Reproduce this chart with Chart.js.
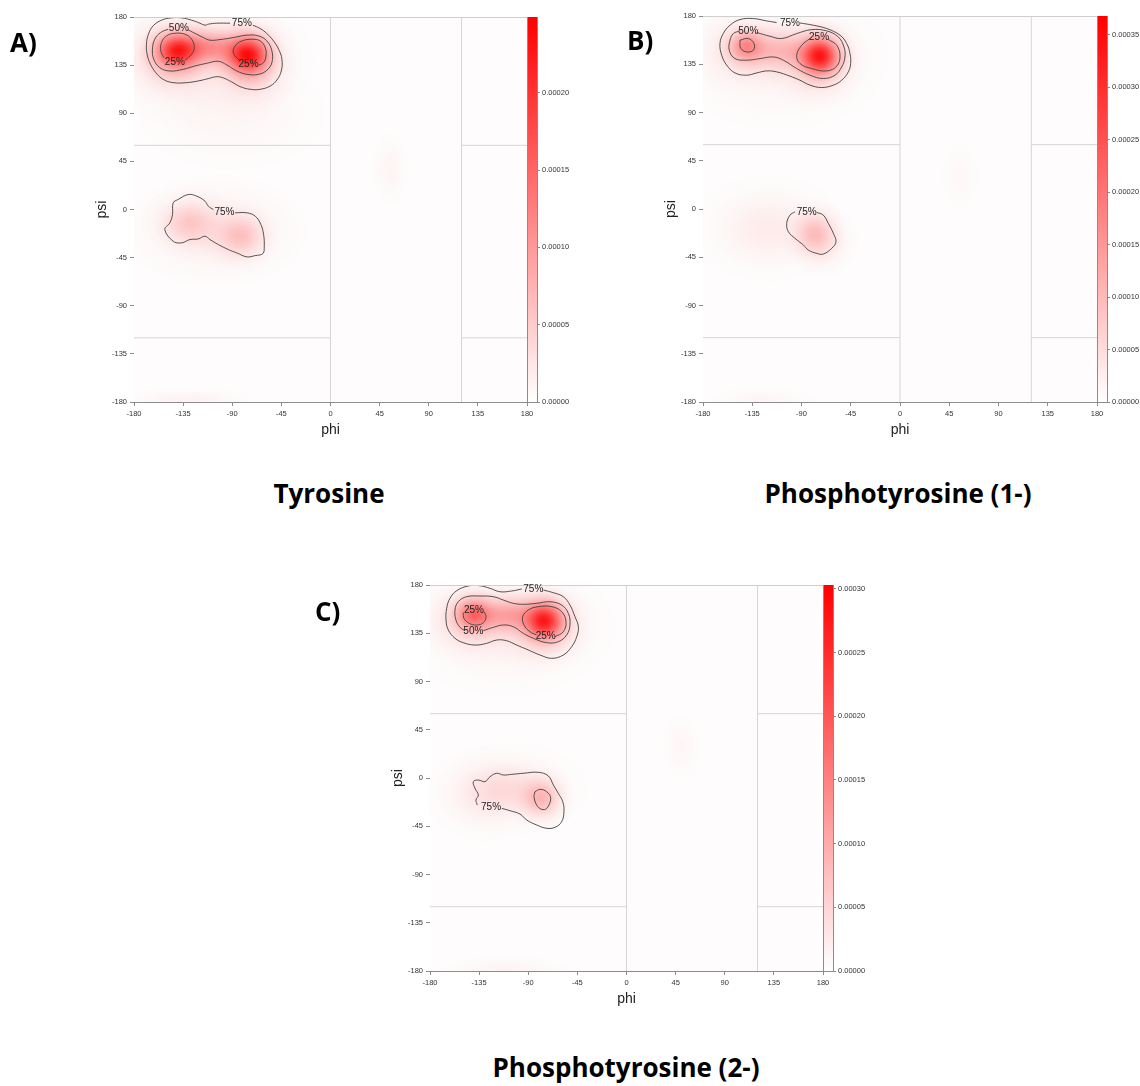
<!DOCTYPE html>
<html>
<head>
<meta charset="utf-8">
<script src="https://cdn.jsdelivr.net/npm/chart.js@4.4.1/dist/chart.umd.min.js"></script>
<style>
  html, body { margin: 0; padding: 0; background: #fff; width: 1140px; height: 1086px; overflow: hidden; }
  canvas { position: absolute; }
  .tag, .name {
    position: absolute; font-family: "Open Sans", sans-serif; font-weight: 700;
    font-size: 26px; line-height: 26px; color: #000; white-space: nowrap;
  }
  .name { transform: translateX(-50%); }
</style>
</head>
<body>
<canvas id="tyr" width="600" height="450" style="left:0;top:0"></canvas>
<canvas id="ptyr1" width="540" height="450" style="left:600px;top:0"></canvas>
<canvas id="ptyr2" width="600" height="450" style="left:300px;top:560px"></canvas>

<div class="tag" style="left:10px;top:29px">A)</div>
<div class="tag" style="left:627px;top:27px">B)</div>
<div class="tag" style="left:315px;top:598px">C)</div>
<div class="name" style="left:329px;top:480px">Tyrosine</div>
<div class="name" style="left:898px;top:480px">Phosphotyrosine (1-)</div>
<div class="name" style="left:626px;top:1054px">Phosphotyrosine (2-)</div>

<script>
// axis ticks (degrees)
const phiTicks = [-180, -135, -90, -45, 0, 45, 90, 135, 180];
const psiTicks = [-180, -135, -90, -45, 0, 45, 90, 135, 180];

// region boundaries [phi, psi]
const regionLines = [
  [[-180, 60], [0, 60]],
  [[120, 60], [180, 60]],
  [[-180, -120], [0, -120]],
  [[120, -120], [180, -120]],
  [[0, -180], [0, 180]],
  [[120, -180], [120, 180]]
];

// density peaks: [phi, psi, sd phi, sd psi, density]
const tyrBlobs = [
  [-140, 149, 12, 10, 0.00015],
  [-76, 145, 12, 11, 0.00017],
  [-110, 152, 16, 10, 0.00008],
  [-145, 143, 18, 16, 0.00006],
  [-72, 138, 16, 17, 0.00006],
  [-115, 140, 38, 25, 0.00002],
  [-130, -12, 15, 12, 0.00004],
  [-82, -25, 13, 12, 0.000045],
  [-105, -20, 32, 20, 0.00002],
  [55, 38, 7, 14, 0.000008],
  [-130, -178, 25, 5, 0.00001],
  [-90, 90, 40, 25, 0.000006]
];
const tyrKeyMax = 0.000249;
const tyrKeyTicks = [0, 0.00005, 0.0001, 0.00015, 0.0002];

// contours [phi, psi]
const tyrTop75 = [[-71.1, 172.3], [-64.4, 169.2], [-58.3, 164.5], [-52.2, 157.6], [-47.5, 149.8], [-44.5, 140.5], [-45.1, 129.5], [-49.1, 121.1], [-55.2, 115.5], [-64.4, 112.4], [-73.6, 112.4], [-82.8, 114.9], [-90.5, 119.3], [-98.1, 123.0], [-104.2, 124.2], [-111.9, 122.4], [-121.1, 120.2], [-131.9, 118.6], [-144.1, 118.6], [-153.3, 121.7], [-160.0, 128.0], [-164.9, 135.8], [-168.0, 145.2], [-168.6, 154.5], [-166.8, 163.9], [-162.5, 171.7], [-154.8, 177.0], [-145.6, 179.2], [-136.4, 179.2], [-127.2, 177.0], [-119.6, 174.2], [-115.0, 172.3], [-111.9, 173.3], [-104.2, 174.2], [-92.0, 174.2]];
const tyrTop50 = [[-130.3, 167.9], [-122.6, 163.9], [-116.5, 160.8], [-110.4, 158.3], [-101.2, 158.9], [-88.9, 160.8], [-76.6, 163.0], [-65.9, 162.3], [-58.3, 157.6], [-53.7, 148.3], [-53.7, 137.4], [-58.3, 130.2], [-65.9, 126.4], [-76.6, 126.4], [-85.8, 129.5], [-95.0, 135.2], [-102.7, 138.6], [-113.4, 136.7], [-124.2, 134.2], [-134.9, 131.1], [-147.2, 129.5], [-156.4, 132.7], [-161.9, 140.5], [-163.1, 149.8], [-161.0, 159.2], [-155.7, 165.4], [-148.7, 168.6]];
const tyrTop25a = [[-133.4, 139.5], [-127.2, 145.2], [-124.8, 151.4], [-127.2, 159.2], [-133.4, 163.9], [-142.6, 164.8], [-150.2, 162.3], [-154.8, 156.1], [-155.4, 148.3], [-152.7, 142.0]];
const tyrTop25b = [[-82.8, 138.9], [-88.9, 146.1], [-87.4, 152.9], [-81.2, 157.6], [-72.0, 159.2], [-64.4, 157.6], [-59.8, 151.4], [-59.1, 143.6], [-61.3, 137.4], [-65.9, 134.9]];
const tyrLow75 = [[-87.4, -3.1], [-76.6, -3.1], [-69.0, -6.2], [-63.8, -14.0], [-61.3, -23.4], [-60.7, -34.3], [-61.9, -41.2], [-69.0, -43.1], [-76.6, -44.3], [-85.8, -40.6], [-93.5, -37.5], [-102.7, -32.8], [-110.4, -28.1], [-115.0, -25.0], [-121.1, -27.5], [-128.8, -28.1], [-136.4, -31.2], [-144.1, -29.7], [-151.8, -18.7], [-147.2, -12.5], [-144.7, -4.7], [-144.1, 6.2], [-139.5, 9.4], [-130.3, 14.0], [-122.6, 12.5], [-115.0, 7.8], [-111.9, 3.1], [-107.3, 0]];
const tyrLabels = [['75%', -81.2, 173.9], ['50%', -138.9, 169.5], ['25%', -142.6, 138.0], ['25%', -75.1, 135.8], ['75%', -97.2, -2.2]];

const p1Blobs = [
  [-73, 143, 11, 11, 0.00026],
  [-75, 138, 17, 17, 0.00007],
  [-140, 152, 10, 9, 0.00011],
  [-142, 148, 18, 15, 0.00005],
  [-108, 148, 16, 11, 0.00007],
  [-110, 140, 38, 25, 0.00002],
  [-78, -22, 11, 12, 0.000065],
  [-72, -30, 13, 13, 0.00003],
  [-120, -18, 26, 19, 0.000025],
  [55, 30, 8, 14, 0.000007],
  [-125, -178, 20, 5, 0.00001]
];
const p1KeyMax = 0.000368;
const p1KeyTicks = [0, 0.00005, 0.0001, 0.00015, 0.0002, 0.00025, 0.0003, 0.00035];
const p1Top75 = [[-91.4, 173.5], [-79.2, 171.4], [-67.0, 168.3], [-54.8, 162.1], [-48.7, 154.3], [-45.7, 145.0], [-45.1, 135.7], [-47.2, 127.9], [-53.3, 120.1], [-60.9, 115.5], [-71.6, 113.3], [-82.2, 115.5], [-91.4, 120.1], [-100.5, 123.9], [-112.7, 127.9], [-121.8, 128.8], [-130.9, 126.9], [-140.1, 124.8], [-150.8, 126.9], [-158.3, 134.1], [-162.9, 143.4], [-164.5, 154.3], [-161.5, 163.6], [-155.3, 171.4], [-146.2, 176.7], [-134.0, 177.6], [-121.8, 175.4], [-112.7, 173.9]];
const p1Top50 = [[-130.9, 164.6], [-118.8, 161.1], [-108.1, 159.0], [-94.4, 163.6], [-80.7, 167.3], [-67.0, 166.1], [-56.4, 160.5], [-51.2, 151.2], [-50.3, 141.8], [-53.3, 132.5], [-59.4, 124.8], [-70.1, 121.7], [-82.2, 124.8], [-94.4, 131.0], [-106.6, 138.8], [-115.7, 141.8], [-127.9, 140.3], [-140.1, 138.8], [-150.8, 140.3], [-156.0, 148.1], [-155.3, 157.4], [-152.3, 163.6], [-146.2, 166.1]];
const p1Top25a = [[-146.2, 157.4], [-138.6, 159.0], [-133.4, 154.3], [-134.0, 148.1], [-140.1, 146.5], [-145.6, 150.0], [-146.2, 157.4]];
const p1Top25b = [[-82.2, 159.0], [-89.8, 152.7], [-94.4, 143.4], [-91.4, 135.7], [-80.7, 131.0], [-67.0, 128.8], [-57.8, 133.2], [-54.8, 142.5], [-57.8, 152.7], [-65.5, 158.1]];
const p1Low75 = [[-76.1, -3.2], [-70.1, -5.7], [-65.5, -13.4], [-60.9, -22.7], [-58.5, -30.6], [-62.4, -36.7], [-70.1, -42.0], [-76.1, -41.4], [-83.7, -38.3], [-88.3, -33.6], [-95.9, -27.4], [-102.0, -21.2], [-103.5, -13.4], [-100.5, -5.7], [-95.9, -2.6]];
const p1Labels = [['75%', -100.5, 173.5], ['50%', -138.6, 165.8], ['25%', -74.0, 159.9], ['75%', -85.3, -2.6]];

const p2Blobs = [
  [-75, 147, 11, 11, 0.0002],
  [-75, 142, 18, 16, 0.00006],
  [-140, 153, 10, 9, 0.00012],
  [-143, 148, 18, 15, 0.00005],
  [-108, 152, 16, 10, 0.00008],
  [-110, 142, 38, 25, 0.00002],
  [-78, -19, 11, 11, 0.000075],
  [-105, -10, 24, 15, 0.00003],
  [-130, -15, 20, 17, 0.00002],
  [50, 30, 8, 14, 0.000007],
  [-110, -178, 25, 5, 0.00001]
];
const p2KeyMax = 0.000303;
const p2KeyTicks = [0, 0.00005, 0.0001, 0.00015, 0.0002, 0.00025, 0.0003];
const p2Top75 = [[-76.2, 175.3], [-67.0, 172.8], [-57.9, 169.1], [-51.8, 161.3], [-47.2, 150.4], [-44.1, 141.1], [-45.6, 131.8], [-50.2, 122.5], [-57.9, 114.7], [-68.5, 111.6], [-79.2, 114.7], [-89.9, 119.4], [-100.6, 124.0], [-109.7, 128.0], [-118.9, 128.7], [-128.1, 125.6], [-138.8, 124.0], [-149.5, 126.2], [-157.1, 130.3], [-163.2, 138.0], [-165.3, 147.3], [-164.7, 158.3], [-161.7, 167.6], [-155.5, 174.7], [-144.9, 179.1], [-134.2, 179.3], [-125.0, 176.9], [-115.9, 173.7], [-105.2, 174.4], [-96.0, 176.3]];
const p2Top50 = [[-131.2, 137.4], [-122.0, 140.5], [-112.9, 142.7], [-103.7, 141.1], [-94.5, 134.9], [-85.4, 130.3], [-73.1, 126.2], [-62.5, 127.1], [-54.8, 133.4], [-51.8, 142.7], [-53.3, 153.6], [-59.4, 161.3], [-70.1, 164.4], [-82.3, 162.9], [-94.5, 162.0], [-103.7, 162.9], [-112.9, 166.0], [-122.0, 169.1], [-134.2, 169.7], [-146.4, 169.1], [-154.1, 164.4], [-157.1, 156.7], [-156.2, 147.3], [-152.5, 140.5], [-147.9, 137.4]];
const p2Top25a = [[-130.5, 155.1], [-128.7, 150.4], [-131.2, 144.8], [-137.2, 142.7], [-144.0, 144.2], [-148.9, 148.9], [-149.5, 154.2]];
const p2Top25b = [[-65.5, 131.8], [-57.9, 136.4], [-55.4, 145.8], [-59.4, 155.1], [-68.5, 159.8], [-80.8, 159.8], [-89.9, 156.7], [-95.1, 150.4], [-93.9, 142.7], [-88.4, 136.4], [-82.3, 133.4]];
const p2Low75 = [[-114.3, -28.3], [-106.7, -30.5], [-97.6, -33.6], [-91.4, -39.2], [-82.3, -43.8], [-73.1, -46.9], [-65.5, -46.0], [-59.4, -40.8], [-57.3, -31.4], [-58.4, -22.1], [-62.5, -14.3], [-67.0, -6.5], [-71.6, 1.9], [-80.8, 5.3], [-94.5, 4.4], [-105.2, 3.4], [-112.9, 2.8], [-118.9, 4.4], [-125.0, 1.2], [-129.6, -3.4], [-135.7, -1.9], [-140.3, -3.4], [-138.8, -9.6], [-135.7, -15.9], [-137.9, -20.5], [-136.7, -25.2]];
const p2Low25 = [[-83.8, -12.8], [-79.2, -10.6], [-73.1, -12.8], [-69.4, -18.9], [-73.1, -28.3], [-77.7, -29.2], [-82.3, -25.2], [-84.7, -17.4], [-83.8, -12.8]];
const p2Labels = [['75%', -85.4, 176.3], ['50%', -140.3, 136.4], ['25%', -139.7, 156.0], ['25%', -74.0, 132.4], ['75%', -124.1, -27.4]];

const tickFont = { family: 'Liberation Sans', size: 7.5 };
const titleFont = { family: 'Liberation Sans', size: 14 };
const axisGrey = '#8c8c8c';

// smooth density drawn as summed gaussian spots, then laid over the plot area
const densityLayer = {
  id: 'densityLayer',
  beforeDatasetsDraw(chart, args, opts) {
    const { ctx, chartArea: a, scales: { x, y } } = chart;
    const off = document.createElement('canvas');
    off.width = chart.width;
    off.height = chart.height;
    const o = off.getContext('2d');
    o.globalCompositeOperation = 'lighter';
    opts.blobs.forEach(([phi, psi, sdPhi, sdPsi, d]) => {
      const cx = x.getPixelForValue(phi);
      const cy = y.getPixelForValue(psi);
      const rx = Math.abs(x.getPixelForValue(phi + sdPhi) - cx);
      const ry = Math.abs(y.getPixelForValue(psi + sdPsi) - cy);
      const peak = Math.min(1, d / opts.max);
      o.save();
      o.translate(cx, cy);
      o.scale(rx, ry);
      const g = o.createRadialGradient(0, 0, 0, 0, 0, 3);
      for (let i = 0; i < 12; i++) {
        const r = i / 4;
        g.addColorStop(r / 3, `rgba(255,0,0,${peak * Math.exp(-r * r / 2)})`);
      }
      g.addColorStop(1, 'rgba(255,0,0,0)');
      o.fillStyle = g;
      o.fillRect(-3, -3, 6, 6);
      o.restore();
    });
    ctx.save();
    ctx.beginPath();
    ctx.rect(a.left, a.top, a.width, a.height);
    ctx.clip();
    ctx.fillStyle = '#fefcfc';
    ctx.fillRect(a.left, a.top, a.width, a.height);
    ctx.drawImage(off, 0, 0);
    ctx.restore();
  }
};

// plot frame, colour key bar and contour labels
const plotExtras = {
  id: 'plotExtras',
  afterDatasetsDraw(chart, args, opts) {
    const { ctx, chartArea: a, scales: { x, y, cb } } = chart;
    ctx.save();
    ctx.lineWidth = 1;
    ctx.strokeStyle = '#cfcfcf';
    ctx.beginPath();
    ctx.moveTo(a.left, a.top + 0.5);
    ctx.lineTo(a.right, a.top + 0.5);
    ctx.stroke();

    const y0 = cb.getPixelForValue(0);
    const y1 = cb.getPixelForValue(cb.max);
    const grad = ctx.createLinearGradient(0, y0, 0, y1);
    grad.addColorStop(0, '#ffffff');
    grad.addColorStop(1, '#ff0000');
    ctx.fillStyle = grad;
    ctx.fillRect(a.right, y1, 10, y0 - y1);
    ctx.strokeStyle = axisGrey;
    ctx.beginPath();
    ctx.moveTo(a.right + 0.5, a.top);
    ctx.lineTo(a.right + 0.5, a.bottom);
    ctx.moveTo(a.right + 10.5, a.top);
    ctx.lineTo(a.right + 10.5, a.bottom);
    ctx.stroke();

    ctx.font = '10px "Liberation Sans"';
    ctx.fillStyle = '#222';
    ctx.textAlign = 'center';
    ctx.textBaseline = 'middle';
    opts.labels.forEach(([text, phi, psi]) => {
      ctx.fillText(text, x.getPixelForValue(phi), y.getPixelForValue(psi));
    });
    ctx.restore();
  }
};

function toPoints(list) {
  return list.map(([x, y]) => ({ x, y }));
}

function angleAxis(ticks, title, fit) {
  return {
    type: 'linear', min: -180, max: 180, z: 1,
    afterBuildTicks: s => { s.ticks = ticks.map(value => ({ value })); },
    afterFit: fit,
    border: { color: axisGrey, width: 1 },
    grid: { drawOnChartArea: false, tickLength: 4, color: axisGrey },
    ticks: { font: tickFont, color: '#333', padding: 3, maxRotation: 0, autoSkip: false },
    title: { display: true, text: title, font: titleFont, color: '#222', padding: 0 }
  };
}

function ramaPanel(id, p) {
  const datasets = [];
  regionLines.forEach(seg => datasets.push({
    data: toPoints(seg), showLine: true, borderColor: '#d6d6d6', borderWidth: 1, pointRadius: 0
  }));
  p.contours.forEach(c => datasets.push({
    data: toPoints(c), showLine: true, borderColor: '#404040', borderWidth: 0.9,
    pointRadius: 0, tension: 0.4
  }));
  return new Chart(document.getElementById(id), {
    type: 'scatter',
    data: { datasets },
    options: {
      responsive: false,
      animation: false,
      events: [],
      layout: { padding: p.pad },
      plugins: {
        legend: { display: false },
        tooltip: { enabled: false },
        densityLayer: { blobs: p.blobs, max: p.keyMax },
        plotExtras: { labels: p.labels }
      },
      scales: {
        x: angleAxis(phiTicks, 'phi', s => { s.height = 37; }),
        y: angleAxis(psiTicks, 'psi', s => { s.width = 40; }),
        cb: {
          axis: 'y', type: 'linear', position: 'right', min: 0, max: p.keyMax,
          afterBuildTicks: s => { s.ticks = p.keyTicks.map(value => ({ value })); },
          afterFit: s => { s.width = p.keyWidth; },
          border: { display: false },
          grid: { drawOnChartArea: false, tickLength: 13, color: axisGrey },
          ticks: { font: tickFont, color: '#333', padding: 2, callback: v => v.toFixed(5) }
        }
      }
    },
    plugins: [densityLayer, plotExtras]
  });
}

ramaPanel('tyr', {
  blobs: tyrBlobs, keyMax: tyrKeyMax, keyTicks: tyrKeyTicks, labels: tyrLabels,
  contours: [tyrTop75, tyrTop50, tyrTop25a, tyrTop25b, tyrLow75],
  pad: { left: 94, top: 17, right: 13, bottom: 11 }, keyWidth: 60
});
ramaPanel('ptyr1', {
  blobs: p1Blobs, keyMax: p1KeyMax, keyTicks: p1KeyTicks, labels: p1Labels,
  contours: [p1Top75, p1Top50, p1Top25a, p1Top25b, p1Low75],
  pad: { left: 63, top: 16, right: 0, bottom: 11 }, keyWidth: 43
});
ramaPanel('ptyr2', {
  blobs: p2Blobs, keyMax: p2KeyMax, keyTicks: p2KeyTicks, labels: p2Labels,
  contours: [p2Top75, p2Top50, p2Top25a, p2Top25b, p2Low75, p2Low25],
  pad: { left: 90, top: 25, right: 17, bottom: 2 }, keyWidth: 60
});
</script>
</body>
</html>
